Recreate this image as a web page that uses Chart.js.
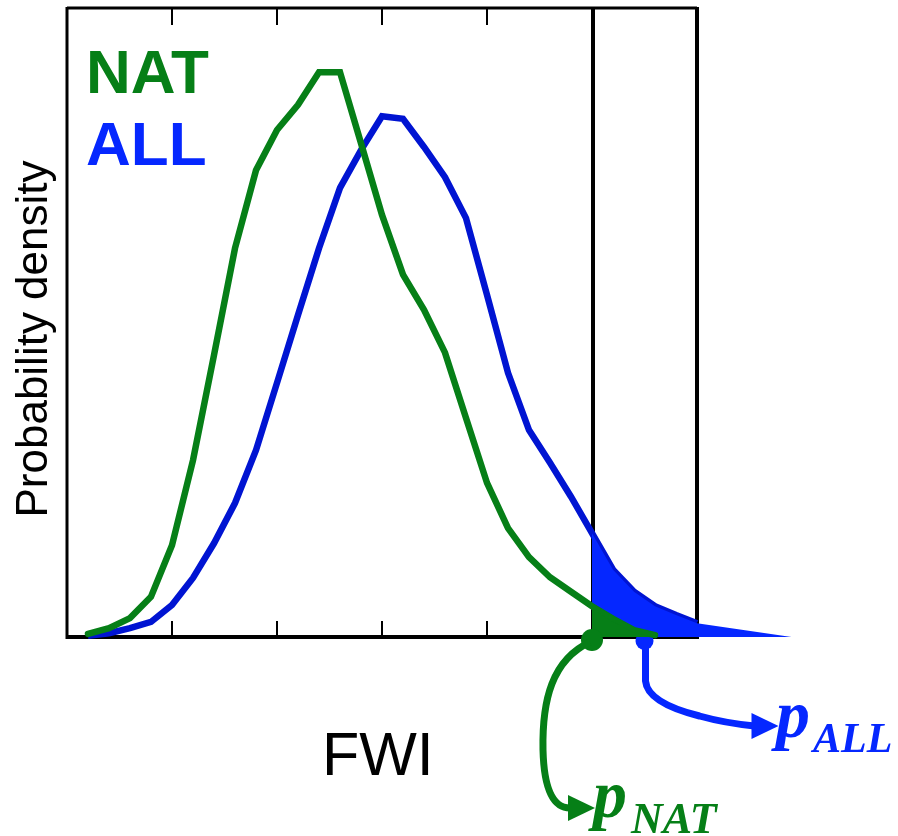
<!DOCTYPE html>
<html>
<head>
<meta charset="utf-8">
<script src="https://cdn.jsdelivr.net/npm/chart.js@4.4.1/dist/chart.umd.min.js"></script>
<style>
html,body{margin:0;padding:0;background:#fff;}
#wrap{width:898px;height:836px;position:relative;}
</style>
</head>
<body>
<div id="wrap"><canvas id="c" width="898" height="836"></canvas></div>
<script>
// ---- data ----
const fwi = [1,2,3,4,5,6,7,8,9,10,11,12,13,14,15,16,17,18,19,20,21,22,23,24,25,26,27,28];
const natDensity = [0.5,1.4,3.0,6.4,14.6,28.1,44.8,61.8,74.2,80.6,84.6,89.8,89.8,78.5,67.1,57.6,52.0,45.2,34.8,24.5,17.3,12.7,9.5,7.2,4.9,2.9,1.1,0.3];
const fwiAll = [1,2,3,4,5,6,7,8,9,10,11,12,13,14,15,16,17,18,19,20,21,22,23,24,25,26,27,28,29,30];
const allDensity = [0.2,0.6,1.4,2.4,5.1,9.4,14.9,21.3,29.7,40.4,51.2,61.8,71.4,77.4,82.8,82.4,77.9,73.1,66.6,54.4,42.0,32.9,27.7,22.3,16.5,10.7,7.2,4.9,3.5,2.2];
const natTailX = [25,26,27,28];
const natTailY = [4.9,2.9,1.1,0.3];
const allTailX = [25,26,27,28,29,30,34.5];
const allTailY = [16.5,10.7,7.2,4.9,3.5,2.2,0];
const threshold = 25;
const frameMax = 30;
const xTicks = [5,10,15,20];
const seriesNames = ['NAT','ALL'];
const xTitle = 'FWI';
const yTitle = 'Probability density';

const GREEN = '#067F17';
const BLUE_LINE = '#0014D2';
const BLUE_FILL = '#0527FF';

const pts = (xs, ys) => xs.map((x,i)=>({x:x, y:ys[i]}));

const framePlugin = {
  id:'frame',
  beforeDatasetsDraw(chart){
    const ctx = chart.ctx, a = chart.chartArea;
    const xs = chart.scales.x, ys = chart.scales.y;
    const L = a.left, R = xs.getPixelForValue(frameMax), T = a.top, B = a.bottom;
    ctx.save();
    ctx.strokeStyle = '#000';
    ctx.lineCap = 'butt';
    ctx.lineWidth = 3;
    ctx.beginPath(); ctx.moveTo(L, T); ctx.lineTo(R, T); ctx.stroke();
    ctx.beginPath(); ctx.moveTo(L, T-1); ctx.lineTo(L, B+2); ctx.stroke();
    ctx.lineWidth = 4;
    ctx.beginPath(); ctx.moveTo(L-1, B); ctx.lineTo(R+2, B); ctx.stroke();
    ctx.beginPath(); ctx.moveTo(R, T-1); ctx.lineTo(R, B); ctx.stroke();
    const tx = xs.getPixelForValue(threshold);
    ctx.beginPath(); ctx.moveTo(tx+1, T-1); ctx.lineTo(tx+1, B); ctx.stroke();
    ctx.lineWidth = 2;
    xTicks.forEach(t=>{
      const px = Math.round(xs.getPixelForValue(t));
      ctx.beginPath(); ctx.moveTo(px, B); ctx.lineTo(px, B-16); ctx.stroke();
      ctx.beginPath(); ctx.moveTo(px, T); ctx.lineTo(px, T+17); ctx.stroke();
    });
    // blue marker + arrow (under the fills)
    const bx = xs.getPixelForValue(27.5), by = ys.getPixelForValue(0)+4;
    ctx.strokeStyle = BLUE_FILL; ctx.fillStyle = BLUE_FILL;
    ctx.beginPath(); ctx.arc(bx, by, 9, 0, Math.PI*2); ctx.fill();
    ctx.lineWidth = 7; ctx.lineCap = 'butt'; ctx.lineJoin='round';
    ctx.beginPath();
    ctx.moveTo(bx+1, by);
    ctx.lineTo(bx+1, by+40);
    ctx.quadraticCurveTo(bx+3, by+62, bx+55, by+75);
    ctx.quadraticCurveTo(bx+80, by+82, bx+110, by+85);
    ctx.stroke();
    ctx.beginPath();
    ctx.moveTo(bx+134, by+85);
    ctx.lineTo(bx+107, by+72);
    ctx.lineTo(bx+107, by+98);
    ctx.closePath(); ctx.fill();
    ctx.restore();
  },
  afterDatasetsDraw(chart){
    const ctx = chart.ctx;
    const xs = chart.scales.x, ys = chart.scales.y;
    ctx.save();
    const gx = xs.getPixelForValue(threshold), gy = ys.getPixelForValue(0)+3;
    ctx.fillStyle = GREEN; ctx.strokeStyle = GREEN;
    ctx.beginPath(); ctx.arc(gx, gy, 11, 0, Math.PI*2); ctx.fill();
    ctx.lineWidth = 7; ctx.lineCap='butt';
    ctx.beginPath();
    ctx.moveTo(gx-2, gy+2);
    ctx.bezierCurveTo(gx-40, gy+20, gx-50, gy+60, gx-49, gy+110);
    ctx.bezierCurveTo(gx-48, gy+150, gx-38, gy+168, gx-22, gy+168);
    ctx.stroke();
    ctx.beginPath();
    ctx.moveTo(gx+3, gy+168);
    ctx.lineTo(gx-24, gy+155);
    ctx.lineTo(gx-24, gy+181);
    ctx.closePath(); ctx.fill();

    ctx.textBaseline = 'alphabetic';
    ctx.textAlign = 'left';
    ctx.font = 'bold 62px "Liberation Sans", Arial, sans-serif';
    ctx.fillStyle = GREEN; ctx.fillText(seriesNames[0], 86, 93);
    ctx.fillStyle = BLUE_FILL; ctx.fillText(seriesNames[1], 86, 165);

    ctx.fillStyle = '#000';
    ctx.font = '61px "Liberation Sans", Arial, sans-serif';
    ctx.fillText(xTitle, 322, 775);

    ctx.save();
    ctx.translate(47, 339);
    ctx.rotate(-Math.PI/2);
    ctx.textAlign = 'center';
    ctx.font = '44px "Liberation Sans", Arial, sans-serif';
    ctx.fillText(yTitle, 0, 0);
    ctx.restore();

    ctx.textAlign = 'left';
    ctx.fillStyle = BLUE_FILL;
    ctx.font = 'bold italic 68px "Liberation Serif", "Times New Roman", serif';
    ctx.fillText('p', 776, 737);
    ctx.font = 'bold italic 42px "Liberation Serif", "Times New Roman", serif';
    ctx.fillText('ALL', 813, 752);
    ctx.fillStyle = GREEN;
    ctx.font = 'bold italic 68px "Liberation Serif", "Times New Roman", serif';
    ctx.fillText('p', 593, 817);
    ctx.font = 'bold italic 44px "Liberation Serif", "Times New Roman", serif';
    ctx.fillText('NAT', 631, 833);
    ctx.restore();
  }
};

new Chart(document.getElementById('c'), {
  type:'line',
  data:{
    datasets:[
      {label:'NAT tail', data:pts(natTailX,natTailY), borderColor:GREEN, borderWidth:5, backgroundColor:GREEN, fill:'origin', pointRadius:0, tension:0, borderCapStyle:'round', order:0, clip:false},
      {label:'NAT', data:pts(fwi,natDensity), borderColor:GREEN, borderWidth:6.5, fill:false, pointRadius:0, tension:0, borderJoinStyle:'miter', borderCapStyle:'round', order:1, clip:false},
      {label:'ALL tail', data:pts(allTailX,allTailY), borderWidth:0, borderColor:BLUE_FILL, backgroundColor:BLUE_FILL, fill:'origin', pointRadius:0, tension:0, order:2, clip:false},
      {label:'ALL', data:pts(fwiAll,allDensity), borderColor:BLUE_LINE, borderWidth:6.5, fill:false, pointRadius:0, tension:0, borderJoinStyle:'miter', borderCapStyle:'butt', order:3, clip:false}
    ]
  },
  options:{
    responsive:false,
    animation:false,
    devicePixelRatio:1,
    layout:{padding:{left:67, top:8, right:96, bottom:199}},
    plugins:{legend:{display:false}, tooltip:{enabled:false}},
    scales:{
      x:{type:'linear', min:0, max:35, display:false},
      y:{type:'linear', min:0, max:100, display:false}
    }
  },
  plugins:[framePlugin]
});
</script>
</body>
</html>
